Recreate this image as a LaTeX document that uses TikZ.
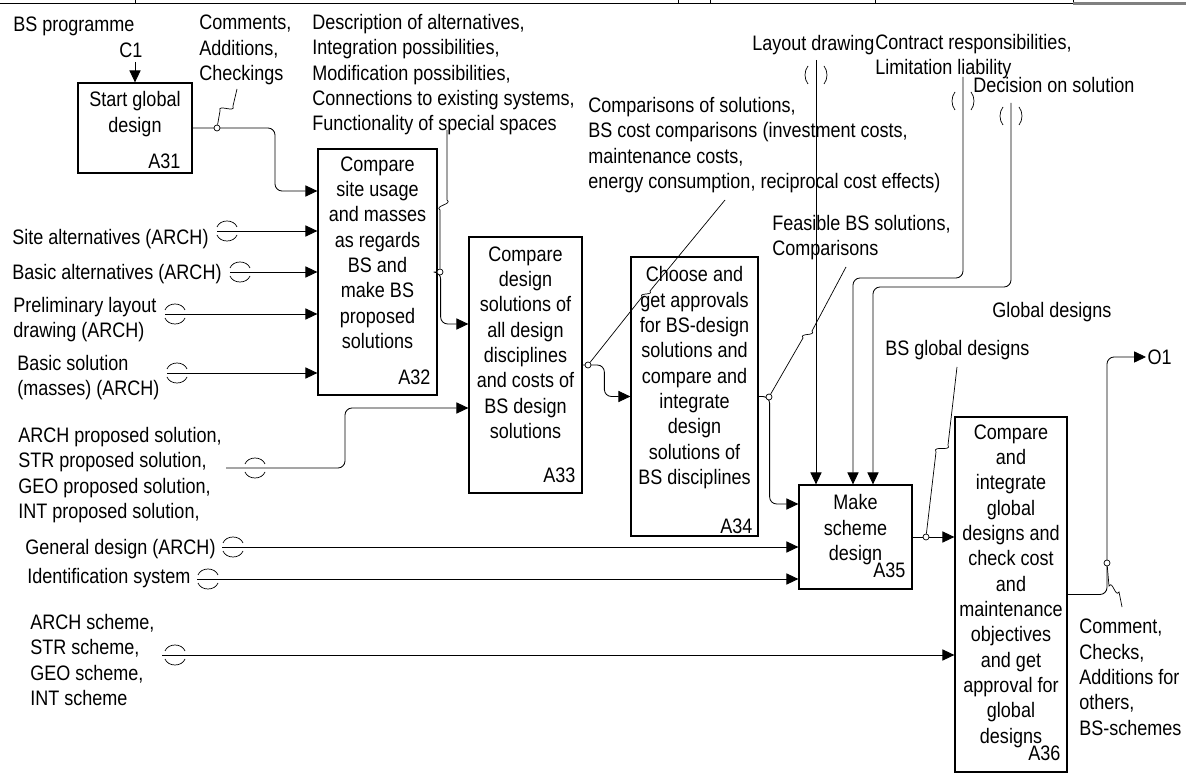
\documentclass[tikz,border=0pt]{standalone}
\usepackage{fontspec}
\setmainfont{Liberation Sans}[FakeStretch=0.86]
\usetikzlibrary{arrows.meta,positioning,calc,fit}

% tunnel marks: arcs above/below a horizontal tail, brackets beside a vertical one
\newcommand{\tunh}[1]{%
  \draw[tunnel] ($(#1)+(0,-4)$) .. controls +(3,-8) and +(-3,-8) .. ($(#1)+(20,-4)$);
  \draw[tunnel] ($(#1)+(0,4)$) .. controls +(3,8) and +(-3,8) .. ($(#1)+(20,4)$);}
\newcommand{\tunv}[1]{%
  \draw[tunnel] ($(#1)+(-8,-9)$) .. controls +(-4,5) and +(-4,-5) .. ($(#1)+(-8,9)$);
  \draw[tunnel] ($(#1)+(8,-9)$) .. controls +(4,5) and +(4,-5) .. ($(#1)+(8,9)$);}

\begin{document}
\begin{tikzpicture}[
    x=0.025cm, y=-0.025cm,
    font=\fontsize{14.9}{18}\selectfont,
    procbox/.style={
        draw, line width=0.9pt, inner sep=0pt
    },
    boxtext/.style={
        align=center, anchor=north, inner sep=0pt
    },
    boxid/.style={
        anchor=south east, inner sep=0pt
    },
    lbl/.style={
        align=left, anchor=north west, inner sep=0pt
    },
    flow/.style={
        line width=0.6pt, rounded corners=5pt,
        -{Triangle[length=3mm, width=2.8mm]}
    },
    callout/.style={line width=0.5pt},
    tunnel/.style={line width=0.5pt},
    joint/.style={
        circle, draw, fill=white, line width=0.5pt,
        inner sep=0pt, minimum size=1.5mm
    },
    wiggle/.style={
        to path={.. controls ($(\tikztostart)!0.6!90:(\tikztotarget)$)
                 and ($(\tikztotarget)!0.6!90:(\tikztostart)$) .. (\tikztotarget)}
    }
]
\useasboundingbox (0,0) rectangle (1186,773);

% --- form strip at the top edge ---
\draw[line width=0.6pt] (0,3) -- (1073,3);
\foreach \x in {135,678,710,875,1073}
    \draw[line width=0.6pt] (\x,0) -- (\x,3);
\draw[gray, line width=1.5pt] (1073,3.5) -- (1186,3.5);

% --- activity boxes ---
\node[procbox, fit={(78,83) (192,173)}]    (A31) {};
\node[procbox, fit={(318,149) (437,395)}]  (A32) {};
\node[procbox, fit={(469,237) (582,493)}]  (A33) {};
\node[procbox, fit={(631,257) (758,536)}]  (A34) {};
\node[procbox, fit={(799,485) (912,589)}]  (A35) {};
\node[procbox, fit={(955,417) (1067,772)}] (A36) {};

\node[boxtext] (A31-txt) at ($(A31.north)+(0,9)$) {Start global\\design};
\node[boxtext] (A32-txt) at ($(A32.north)+(0,8)$) {Compare\\site usage\\and masses\\as regards\\BS and\\make BS\\proposed\\solutions};
\node[boxtext] (A33-txt) at ($(A33.north)+(0,10)$) {Compare\\design\\solutions of\\all design\\disciplines\\and costs of\\BS design\\solutions};
\node[boxtext] (A34-txt) at ($(A34.north)+(0,10)$) {Choose and\\get approvals\\for BS-design\\solutions and\\compare and\\integrate\\design\\solutions of\\BS disciplines};
\node[boxtext] (A35-txt) at ($(A35.north)+(0,10)$) {Make\\scheme\\design};
\node[boxtext] (A36-txt) at ($(A36.north)+(0,8)$) {Compare\\and\\integrate\\global\\designs and\\check cost\\and\\maintenance\\objectives\\and get\\approval for\\global\\designs};

\node[boxid] (A31-id) at ($(A31.south east)+(-12,-5)$)  {A31};
\node[boxid] (A32-id) at ($(A32.south east)+(-7,-11)$)  {A32};
\node[boxid] (A33-id) at ($(A33.south east)+(-7,-11)$)  {A33};
\node[boxid] (A34-id) at ($(A34.south east)+(-6,-3)$)   {A34};
\node[boxid] (A35-id) at ($(A35.south east)+(-7,-12)$)  {A35};
\node[boxid] (A36-id) at ($(A36.south east)+(-7,-12)$)  {A36};

% --- labels ---
\node[lbl] (bsprog) at (13,17) {BS programme};
\node (c1lbl) at (131,50) {C1};
\node[lbl] (cmts) at (199,15) {Comments,\\Additions,\\Checkings};
\node[lbl] (descr) at (312,14) {Description of alternatives,\\Integration possibilities,\\Modification possibilities,\\Connections to existing systems,\\Functionality of special spaces};
\node[lbl] (compar) at (588,97) {Comparisons of solutions,\\BS cost comparisons (investment costs,\\maintenance costs,\\energy consumption, reciprocal cost effects)};
\node[lbl] (layout) at (752,35) {Layout drawing};
\node[lbl] (contract) at (875,34) {Contract responsibilities,\\Limitation liability};
\node[lbl] (decision) at (973,77) {Decision on solution};
\node[lbl] (feasible) at (772,215) {Feasible BS solutions,\\Comparisons};
\node[lbl] (globdes) at (992,302) {Global designs};
\node[lbl] (bsglob) at (885,340) {BS global designs};
\node[anchor=west, inner sep=1pt] (O1) at (1146,357) {O1};

\node[lbl] (sitealt) at (12,229) {Site alternatives (ARCH)};
\node[lbl] (basicalt) at (12,264) {Basic alternatives (ARCH)};
\node[lbl] (prelim) at (13,297) {Preliminary layout\\drawing (ARCH)};
\node[lbl] (basicsol) at (17,355) {Basic solution\\(masses) (ARCH)};
\node[lbl] (proposed) at (18,427) {ARCH proposed solution,\\STR proposed solution,\\GEO proposed solution,\\INT proposed solution,};
\node[lbl] (gendes) at (25,539) {General design (ARCH)};
\node[lbl] (ident) at (27,568) {Identification system};
\node[lbl] (schemes) at (30,614) {ARCH scheme,\\STR scheme,\\GEO scheme,\\INT scheme};
\node[lbl] (comment) at (1079,619) {Comment,\\Checks,\\Additions for\\others,\\BS-schemes};

% --- tails of the incoming arrows ---
\coordinate (c1In)       at (135,62);
\coordinate (siteIn)     at (217,231);
\coordinate (basicaltIn) at (230,272);
\coordinate (prelimIn)   at (165,314);
\coordinate (basicsolIn) at (167,373);
\coordinate (propIn)     at (226,468);
\coordinate (gendesIn)   at (222,547);
\coordinate (identIn)    at (197,579);
\coordinate (schemeIn)   at (162,655);
\coordinate (layoutIn)   at (816,60);
\coordinate (contractIn) at (963,77);
\coordinate (decisionIn) at (1011,103);

% --- inputs and controls ---
\draw[flow] (c1In) -- (A31.north);
\draw[flow] (siteIn) -- (A32.west |- siteIn);
\draw[flow] (basicaltIn) -- (A32.west |- basicaltIn);
\draw[flow] (prelimIn) -- (A32.west |- prelimIn);
\draw[flow] (basicsolIn) -- (A32.west |- basicsolIn);
\coordinate (bend2) at (345,408);
\draw[flow] (propIn) -| (bend2) -- (A33.west |- bend2);
\draw[flow] (gendesIn) -- (A35.west |- gendesIn);
\draw[flow] (identIn) -- (A35.west |- identIn);
\draw[flow] (schemeIn) -- (A36.west |- schemeIn);

\draw[flow] (layoutIn) -- (layoutIn |- A35.north);
\coordinate (ctl2) at (853,278);
\draw[flow] (contractIn) |- (ctl2) -- (ctl2 |- A35.north);
\coordinate (ctl3) at (873,287);
\draw[flow] (decisionIn) |- (ctl3) -- (ctl3 |- A35.north);

\tunh{217,231} \tunh{230,272} \tunh{165,314} \tunh{167,373}
\tunh{245,468} \tunh{223,547} \tunh{198,579} \tunh{165,655}
\tunv{816,75} \tunv{963,101} \tunv{1011,116}

% --- box to box ---
\coordinate (bend1) at (275,191);
\draw[flow] (A31.east) -| (bend1) -- (A32.west |- bend1);
\draw[flow] (A32.east) -- ++(3,0) |- (A33.west |- 0,324);
\draw[flow] (A33.east) -| ($(A34.west)+(-26,0)$) -- (A34.west);
\draw[flow] (A34.east) -- ++(11,0) |- (A35.west |- 0,504);
\draw[flow] (A35.east) -- (A36.west |- A35.east);
\draw[flow] (A36.east) -| ($(O1.west)+(-39,0)$) -- (O1.west);

% --- label joints and squiggles ---
\node[joint] (j31) at (217,128) {};
\node[joint] (j32) at (440,272) {};
\node[joint] (j33) at (588,365) {};
\node[joint] (j34) at (769,397) {};
\node[joint] (j35) at (926,537) {};
\node[joint] (j36) at (1107,563) {};

\draw[callout] (237,89) -- (233,106) to[wiggle] (220,111) -- (j31);
\draw[callout] (447,130) -- (447,200) to[wiggle] (440,210) -- (j32);
\draw[callout] (725,200) -- (650,291) to[wiggle] (642,297) -- (j33);
\draw[callout] (846,267) -- (812,331) to[wiggle] (803,338) -- (j34);
\draw[callout] (957,367) -- (948,445) to[wiggle] (936,452) -- (j35);
\draw[callout] (1122,607) -- (1119,592) to[wiggle] (1109,586) -- (j36);

\end{tikzpicture}
\end{document}
